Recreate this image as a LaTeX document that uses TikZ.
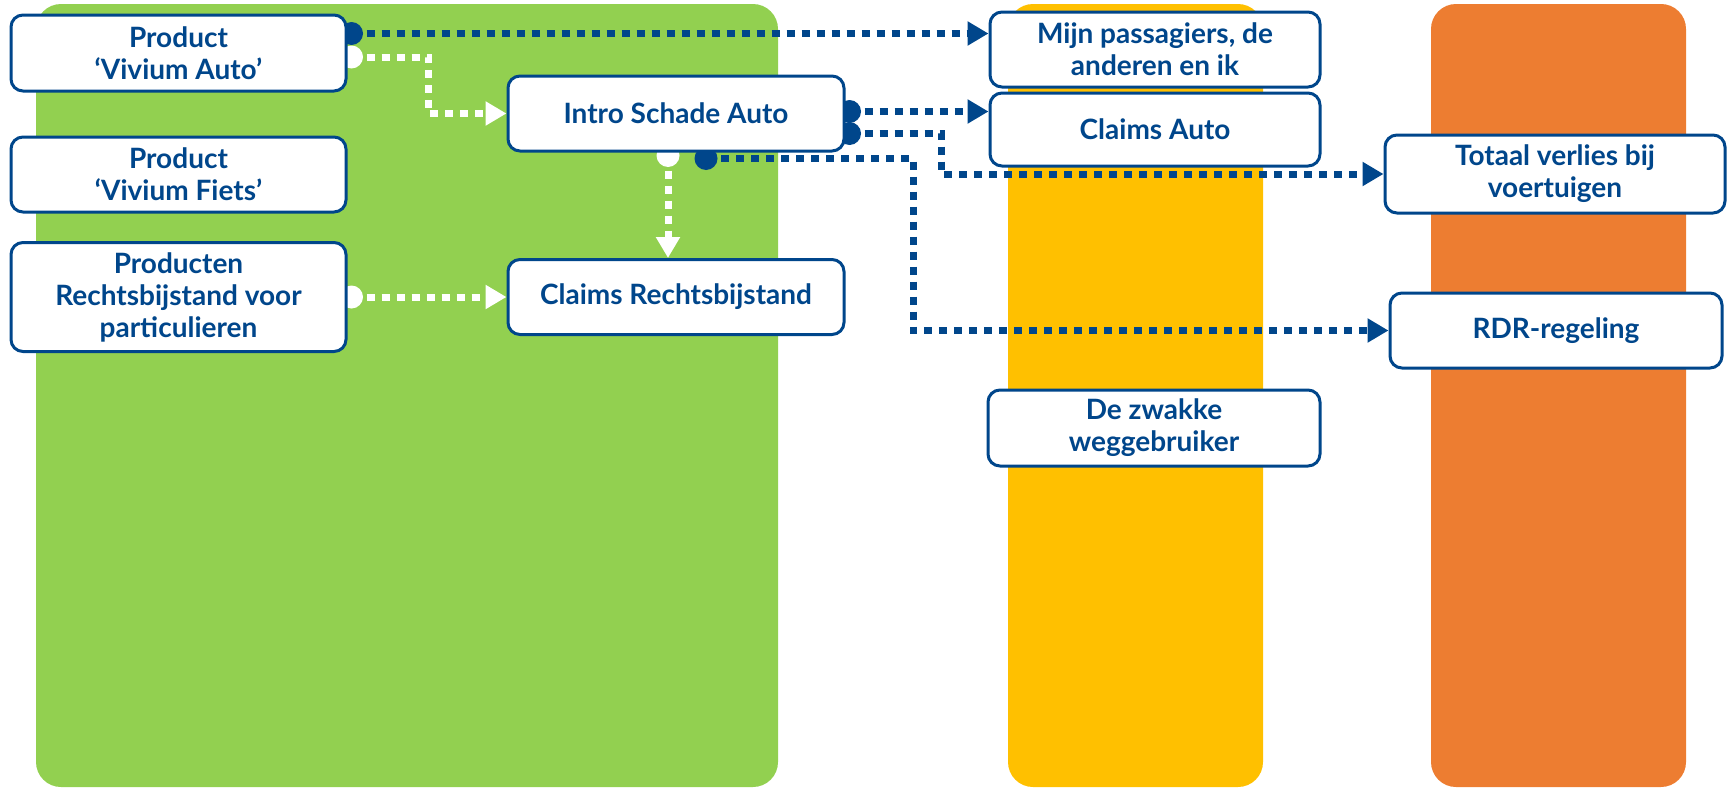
\documentclass[tikz,border=0pt]{standalone}
\usepackage{fontspec}
\setmainfont{Lato}
\usetikzlibrary{arrows.meta,calc}
\definecolor{dblue}{HTML}{00468B}
\definecolor{pgreen}{HTML}{92D050}
\definecolor{pyellow}{HTML}{FFC000}
\definecolor{porange}{HTML}{ED7D31}
\pgfdeclarelayer{bg}
\pgfdeclarelayer{fg}
\pgfsetlayers{bg,main,fg}
\begin{document}
\begin{tikzpicture}[x=1pt,y=-1pt,
  box/.style={draw=dblue, line width=3pt, fill=white, rounded corners=12pt,
    text=dblue, font=\fontsize{28}{32}\selectfont\bfseries, align=center, inner sep=0pt},
  bcon/.style={draw=dblue, line width=7pt, dash pattern=on 8pt off 7pt,
    -{Triangle[length=21pt,width=23pt]}},
  wcon/.style={draw=white, line width=7pt, dash pattern=on 8pt off 7pt,
    -{Triangle[length=21pt,width=23pt]}},
  bdot/.style={fill=dblue},
  wdot/.style={fill=white},
  panel/.style={rounded corners=25pt}
]
\useasboundingbox (0,0) rectangle (1731,787);
\begin{pgfonlayer}{bg}
  \fill[pgreen, panel] (36,4) rectangle (778,787);
  \fill[pyellow, panel] (1008,4) rectangle (1263,787);
  \fill[porange, panel] (1431,4) rectangle (1686,787);
\end{pgfonlayer}
\begin{pgfonlayer}{fg}
  \node[box, minimum width=335pt, minimum height=76pt] (pva) at (178.5,53) {Product\\‘Vivium Auto’};
  \node[box, minimum width=335pt, minimum height=75pt] (pvf) at (178.5,174.5) {Product\\‘Vivium Fiets’};
  \node[box, minimum width=335pt, minimum height=109pt] (prb) at (178.5,297) {Producten\\Rechtsbijstand voor\\particulieren};
  \node[box, minimum width=336pt, minimum height=75pt] (isa) at (676,113.5) {Intro Schade Auto};
  \node[box, minimum width=336pt, minimum height=75pt] (crb) at (676,297) {Claims Rechtsbijstand};
  \node[box, minimum width=330pt, minimum height=75pt] (mpa) at (1155,49.5) {Mijn passagiers, de\\anderen en ik};
  \node[box, minimum width=330pt, minimum height=73pt] (ca) at (1155,129.5) {Claims Auto};
  \node[box, minimum width=340pt, minimum height=78pt] (tvb) at (1555,174) {Totaal verlies bij\\voertuigen};
  \node[box, minimum width=332pt, minimum height=75pt] (rdr) at (1556,330.5) {RDR-regeling};
  \node[box, minimum width=332pt, minimum height=76pt] (dzw) at (1154,428) {De zwakke\\weggebruiker};
\end{pgfonlayer}
% connector start points
\coordinate (s1) at ($(pva.north east)+(4,20)$);
\coordinate (s2) at ($(pva.north east)+(4,43.5)$);
\coordinate (s3) at ($(isa.south)+(-8,3)$);
\coordinate (s4) at ($(prb.east)+(4,0)$);
\coordinate (s5) at ($(isa.north east)+(4,37)$);
\coordinate (s6) at ($(isa.north east)+(4,59)$);
\coordinate (s7) at ($(isa.south)+(30,6)$);
% white connectors
\fill[wdot] (s2) circle[radius=11.5pt];
\draw[wcon] (s2) -- ++(77,0) |- (isa.west);
\fill[wdot] (s3) circle[radius=11.5pt];
\draw[wcon] (s3) -- (crb.north -| s3);
\fill[wdot] (s4) circle[radius=11.5pt];
\draw[wcon] (s4) -- (crb.west);
% blue connectors
\fill[bdot] (s1) circle[radius=11.5pt];
\draw[bcon] (s1) -- (mpa.west |- s1);
\fill[bdot] (s5) circle[radius=11.5pt];
\draw[bcon] (s5) -- (ca.west |- s5);
\fill[bdot] (s6) circle[radius=11.5pt];
\draw[bcon] (s6) -- ++(92,0) |- (tvb.west);
\fill[bdot] (s7) circle[radius=11.5pt];
\draw[bcon] (s7) -- ++(207,0) |- (rdr.west);
\end{tikzpicture}
\end{document}
